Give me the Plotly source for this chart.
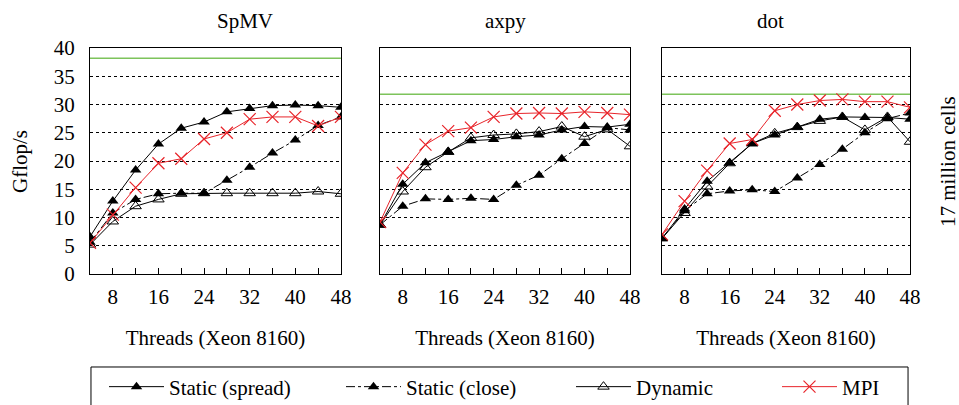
import plotly.graph_objects as go

threads = [4, 8, 12, 16, 20, 24, 28, 32, 36, 40, 44, 48]
panels = ["SpMV", "axpy", "dot"]

spmv_spread = [6.6, 12.9, 18.4, 23.0, 25.8, 26.9, 28.7, 29.3, 29.8, 29.9, 29.8, 29.5]
spmv_close = [5.6, 10.8, 13.2, 14.2, 14.3, 14.3, 16.6, 18.9, 21.4, 23.7, 26.3, 27.8]
spmv_dynamic = [5.2, 9.3, 12.0, 13.2, 14.2, 14.3, 14.3, 14.3, 14.3, 14.3, 14.6, 14.2]
spmv_mpi = [5.5, 10.5, 15.3, 19.6, 20.4, 23.9, 25.0, 27.4, 27.8, 27.8, 26.2, 27.8]

axpy_spread = [8.7, 15.9, 19.7, 21.7, 23.6, 23.8, 24.3, 24.6, 25.5, 26.1, 26.0, 26.5]
axpy_close = [8.7, 12.0, 13.3, 13.2, 13.4, 13.2, 15.7, 17.5, 20.4, 23.1, 25.9, 25.5]
axpy_dynamic = [8.7, 14.6, 18.9, 21.6, 24.1, 24.6, 24.8, 25.2, 26.1, 24.3, 25.6, 22.6]
axpy_mpi = [9.2, 17.9, 22.9, 25.3, 25.9, 27.8, 28.4, 28.5, 28.4, 28.7, 28.5, 28.2]

dot_spread = [6.3, 11.5, 16.4, 19.7, 23.1, 24.6, 26.0, 27.4, 27.8, 27.7, 27.7, 27.4]
dot_close = [6.3, 11.2, 14.2, 14.7, 14.9, 14.6, 17.0, 19.4, 22.1, 25.0, 27.5, 28.5]
dot_dynamic = [6.3, 10.8, 15.5, 19.6, 23.1, 24.9, 26.0, 27.1, 27.8, 25.5, 27.8, 23.4]
dot_mpi = [7.0, 12.9, 18.3, 23.1, 23.8, 28.9, 30.0, 30.7, 30.9, 30.5, 30.5, 29.5]

peaks = [38.2, 31.8, 31.8]

x_ticks = [4, 8, 12, 16, 20, 24, 28, 32, 36, 40, 44, 48]
x_ticktext = ["", "8", "", "16", "", "24", "", "32", "", "40", "", "48"]
y_ticks = [0, 5, 10, 15, 20, 25, 30, 35, 40]

data = [
    (spmv_spread, spmv_close, spmv_dynamic, spmv_mpi),
    (axpy_spread, axpy_close, axpy_dynamic, axpy_mpi),
    (dot_spread, dot_close, dot_dynamic, dot_mpi),
]

FONT = "Liberation Serif"
FS = 21
RED = "#e8242a"
GREEN = "#7dc35b"
W, H = 959, 405

domains = [[0.0, 0.306], [0.3537, 0.6585], [0.6976, 1.0]]
# legend entry start positions (px) for the four series
legend_px = [104, 341, 571, 777]

fig = go.Figure()
for i, (sp, cl, dy, mp) in enumerate(data):
    xa = "x" if i == 0 else f"x{i+1}"
    ya = "y" if i == 0 else f"y{i+1}"
    first = i == 0
    fig.add_trace(go.Scatter(x=[threads[0], threads[-1]], y=[peaks[i]] * 2, mode="lines",
                             line=dict(color=GREEN, width=1.5), showlegend=False,
                             xaxis=xa, yaxis=ya, hoverinfo="skip"))
    fig.add_trace(go.Scatter(x=threads, y=cl, mode="lines+markers", name="Static (close)",
                             line=dict(color="black", width=1, dash="dashdot"),
                             marker=dict(symbol="triangle-up", size=10, color="black"),
                             showlegend=first, legend="legend2", xaxis=xa, yaxis=ya))
    fig.add_trace(go.Scatter(x=threads, y=dy, mode="lines+markers", name="Dynamic",
                             line=dict(color="black", width=1),
                             marker=dict(symbol="triangle-up-open", size=10, color="black", line=dict(width=1)),
                             showlegend=first, legend="legend3", xaxis=xa, yaxis=ya))
    fig.add_trace(go.Scatter(x=threads, y=sp, mode="lines+markers", name="Static (spread)",
                             line=dict(color="black", width=1),
                             marker=dict(symbol="triangle-up", size=10, color="black"),
                             showlegend=first, legend="legend", xaxis=xa, yaxis=ya))
    fig.add_trace(go.Scatter(x=threads, y=mp, mode="lines+markers", name="MPI",
                             line=dict(color=RED, width=1),
                             marker=dict(symbol="x-thin-open", size=12, color=RED, line=dict(width=1.2, color=RED)),
                             showlegend=first, legend="legend4", xaxis=xa, yaxis=ya))

    xkey = "xaxis" if i == 0 else f"xaxis{i+1}"
    ykey = "yaxis" if i == 0 else f"yaxis{i+1}"
    fig.update_layout(**{
        xkey: dict(domain=domains[i], range=[4, 48], anchor=ya, tickvals=x_ticks, ticktext=x_ticktext,
                   ticks="inside", ticklen=6, tickcolor="black", showgrid=False, zeroline=False,
                   showline=True, linecolor="black", linewidth=1, mirror=True, ticklabelstandoff=4,
                   title=dict(text="Threads (Xeon 8160)", standoff=22, font=dict(size=FS, family=FONT, color="black")),
                   tickfont=dict(size=FS, family=FONT, color="black")),
        ykey: dict(range=[0, 40], anchor=xa, tickvals=y_ticks, showticklabels=first,
                   showgrid=True, gridcolor="black", griddash="dot", gridwidth=1, zeroline=False,
                   showline=True, linecolor="black", linewidth=1, mirror=True, ticks="",
                   ticklabelstandoff=10,
                   tickfont=dict(size=FS, family=FONT, color="black")),
    })
    fig.add_annotation(text=panels[i], x=sum(domains[i]) / 2, y=1.0, xref="paper", yref="paper",
                       yanchor="middle", yshift=27, showarrow=False, font=dict(size=FS, family=FONT, color="black"))

fig.add_annotation(text="Gflop/s", x=-0.0854, y=0.5, xref="paper", yref="paper", xanchor="center",
                   yanchor="middle", textangle=-90, showarrow=False, font=dict(size=FS, family=FONT, color="black"))
fig.add_annotation(text="17 million cells", x=1.0463, y=0.5, xref="paper", yref="paper",
                   xanchor="center", yanchor="middle",
                   textangle=-90, showarrow=False, font=dict(size=FS, family=FONT, color="black"))

# legend frame (extends past bottom edge as in the reference)
fig.add_shape(type="rect", xref="paper", yref="paper", x0=0.0012, x1=0.9976, y0=-0.602, y1=-0.4115,
              line=dict(color="black", width=1), fillcolor="rgba(0,0,0,0)")

leg_common = dict(orientation="h", xref="container", yref="container", xanchor="left", yanchor="middle",
                  y=(H - 387) / H, borderwidth=0, bgcolor="rgba(0,0,0,0)", itemwidth=55,
                  font=dict(size=FS, family=FONT, color="black"))
fig.update_layout(
    width=W, height=H,
    margin=dict(l=90, r=49, t=48, b=131),
    paper_bgcolor="white", plot_bgcolor="white",
    font=dict(family=FONT, size=FS, color="black"),
    showlegend=True,
    legend=dict(x=legend_px[0] / W, **leg_common),
    legend2=dict(x=legend_px[1] / W, **leg_common),
    legend3=dict(x=legend_px[2] / W, **leg_common),
    legend4=dict(x=legend_px[3] / W, **leg_common),
)

fig.write_html("out.html", config={"displayModeBar": False},
               post_script="document.body.style.margin='0';document.body.style.padding='0';")
